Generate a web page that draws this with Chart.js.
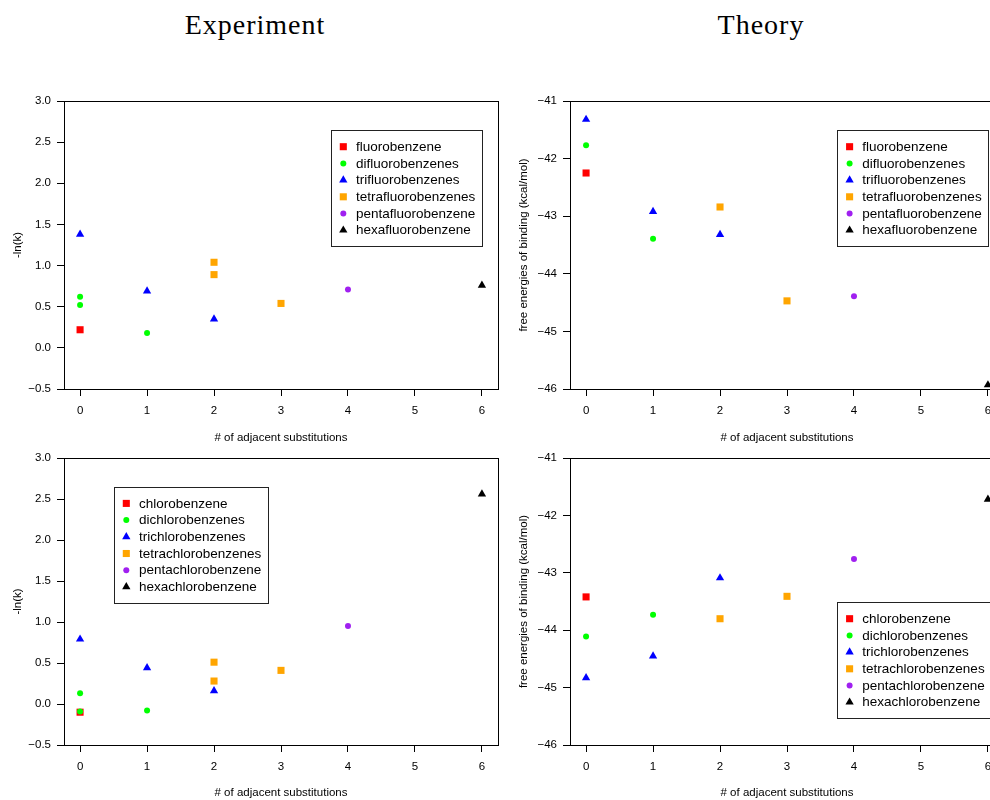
<!DOCTYPE html>
<html>
<head>
<meta charset="utf-8">
<script src="https://cdn.jsdelivr.net/npm/chart.js@4/dist/chart.umd.min.js"></script>
<style>
  html, body { margin: 0; padding: 0; background: #fff; overflow: hidden; width: 990px; height: 800px; }
  .panel { position: absolute; }
  .head { position: absolute; top: 11px; font-family: "Liberation Serif", "Times New Roman", serif; font-size: 28px; letter-spacing: 1px; line-height: 1; color: #000; transform: translateX(-50%); white-space: nowrap; }
</style>
</head>
<body>
<div class="head" style="left:255px">Experiment</div>
<div class="head" style="left:761px">Theory</div>
<canvas id="expFluoro" class="panel" width="506" height="365" style="left:0;top:80px"></canvas>
<canvas id="theoFluoro" class="panel" width="506" height="365" style="left:506px;top:80px"></canvas>
<canvas id="expChloro" class="panel" width="506" height="355" style="left:0;top:445px"></canvas>
<canvas id="theoChloro" class="panel" width="506" height="355" style="left:506px;top:445px"></canvas>
<script>
// series names
const fluoroNames = ["fluorobenzene", "difluorobenzenes", "trifluorobenzenes", "tetrafluorobenzenes", "pentafluorobenzene", "hexafluorobenzene"];
const chloroNames = ["chlorobenzene", "dichlorobenzenes", "trichlorobenzenes", "tetrachlorobenzenes", "pentachlorobenzene", "hexachlorobenzene"];

// # of adjacent substitutions, one list per series
const expFluoroX = [[0], [0, 0, 1], [0, 1, 2], [2, 2, 3], [4], [6]];
const theoFluoroX = [[0], [0, 1], [0, 1, 2], [2, 3], [4], [6]];
const expChloroX = [[0], [0, 0, 1], [0, 1, 2], [2, 2, 3], [4], [6]];
const theoChloroX = [[0], [0, 1], [0, 1, 2], [2, 3], [4], [6]];

// -ln(k) (experiment) and free energies of binding in kcal/mol (theory)
const expFluoroY = [[0.22], [0.62, 0.52, 0.18], [1.38, 0.69, 0.35], [1.04, 0.89, 0.54], [0.71], [0.76]];
const theoFluoroY = [[-42.25], [-41.77, -43.39], [-41.32, -42.92, -43.32], [-42.84, -44.47], [-44.39], [-45.93]];
const expChloroY = [[-0.10], [0.13, -0.09, -0.08], [0.79, 0.44, 0.16], [0.51, 0.28, 0.41], [0.95], [2.56]];
const theoChloroY = [[-43.42], [-44.11, -43.73], [-44.83, -44.45, -43.09], [-43.80, -43.41], [-42.76], [-41.72]];

// tick labels
const xTicks = [0, 1, 2, 3, 4, 5, 6];
const expTicks = [-0.5, 0, 0.5, 1, 1.5, 2, 2.5, 3];
const theoTicks = [-46, -45, -44, -43, -42, -41];

const colors = ["#ff0000", "#00ff00", "#0000ff", "#ffa500", "#a020f0", "#000000"];
const shapes = ["rect", "circle", "triangle", "rect", "circle", "triangle"];
const radius = { rect: 5, circle: 3, triangle: 4.8 };

const sans = '"Liberation Sans", Arial, Helvetica, sans-serif';
Chart.defaults.font.family = sans;
Chart.defaults.color = "#000";

const minus = s => s.replace("-", "\u2212");

// box round the plotting region, like R's box()
const frame = {
    id: "frame",
    afterDatasetsDraw(chart) {
        const a = chart.chartArea, ctx = chart.ctx;
        ctx.save();
        ctx.strokeStyle = "#000";
        ctx.lineWidth = 1;
        ctx.strokeRect(Math.round(a.left) + 0.5, Math.round(a.top) + 0.5,
            Math.round(a.right - a.left), Math.round(a.bottom - a.top));
        ctx.restore();
    }
};

// legend in a box placed inside the plot
const boxLegend = {
    id: "boxLegend",
    afterDraw(chart, args, opts) {
        const ctx = chart.ctx;
        const sets = chart.data.datasets;
        const row = 16.7;
        ctx.save();
        ctx.font = "13.5px " + sans;
        const w = 25 + Math.max(...sets.map(d => ctx.measureText(d.label).width)) + 7;
        const h = row * sets.length + 16;
        const x0 = Math.round(opts.left), y0 = Math.round(opts.top);
        ctx.fillStyle = "#fff";
        ctx.fillRect(x0, y0, w, h);
        ctx.strokeStyle = "#222";
        ctx.lineWidth = 1;
        ctx.strokeRect(x0 + 0.5, y0 + 0.5, Math.round(w), Math.round(h));
        sets.forEach((d, i) => {
            const cy = opts.top + row * (i + 1);
            ctx.fillStyle = d.backgroundColor;
            Chart.helpers.drawPoint(ctx, { pointStyle: d.pointStyle, radius: d.pointRadius, rotation: 0, borderWidth: 0 }, opts.left + 12.3, cy);
            ctx.fillStyle = "#000";
            ctx.textBaseline = "middle";
            ctx.textAlign = "left";
            ctx.fillText(d.label, opts.left + 25, cy + 0.5);
        });
        ctx.restore();
    }
};

function makeChart(id, names, xs, ys, yTicks, yTitle, fmt, padTop, xHeight, legendAt) {
    const datasets = names.map((name, i) => ({
        label: name,
        data: xs[i].map((x, j) => ({ x: x, y: ys[i][j] })),
        pointStyle: shapes[i],
        pointRadius: radius[shapes[i]],
        backgroundColor: colors[i],
        pointBorderWidth: 0,
        borderWidth: 0,
        order: names.length - i,
        clip: false
    }));

    new Chart(document.getElementById(id), {
        type: "scatter",
        data: { datasets: datasets },
        options: {
            responsive: false,
            animation: false,
            events: [],
            layout: { padding: { top: padTop, right: 8, left: 0, bottom: 0 } },
            plugins: {
                legend: { display: false },
                tooltip: { enabled: false },
                boxLegend: legendAt
            },
            scales: {
                x: {
                    type: "linear",
                    min: -0.24,
                    max: 6.24,
                    afterBuildTicks: s => { s.ticks = xTicks.map(v => ({ value: v })); },
                    afterFit: s => { s.height = xHeight; },
                    ticks: { font: { size: 11.5 }, padding: 8, autoSkip: false, maxRotation: 0, callback: v => String(v) },
                    grid: { drawOnChartArea: false, tickLength: 7, color: "#000" },
                    border: { display: false },
                    title: { display: true, text: "# of adjacent substitutions", font: { size: 11.5 }, padding: 0 }
                },
                y: {
                    type: "linear",
                    min: yTicks[0],
                    max: yTicks[yTicks.length - 1],
                    afterBuildTicks: s => { s.ticks = yTicks.map(v => ({ value: v })); },
                    afterFit: s => { s.width = 64; },
                    ticks: { font: { size: 11.5 }, padding: 6, autoSkip: false, callback: v => minus(fmt(v)) },
                    grid: { drawOnChartArea: false, tickLength: 7, color: "#000" },
                    border: { display: false },
                    title: { display: true, text: yTitle, font: { size: 11.5 }, padding: { top: 11, bottom: 0 } }
                }
            }
        },
        plugins: [frame, boxLegend]
    });
}

const oneDec = v => v.toFixed(1);
const whole = v => String(v);

makeChart("expFluoro", fluoroNames, expFluoroX, expFluoroY, expTicks, "-ln(k)", oneDec, 21, 56, { left: 331, top: 50 });
makeChart("theoFluoro", fluoroNames, theoFluoroX, theoFluoroY, theoTicks, "free energies of binding (kcal/mol)", whole, 21, 56, { left: 331.3, top: 50 });
makeChart("expChloro", chloroNames, expChloroX, expChloroY, expTicks, "-ln(k)", oneDec, 13, 55, { left: 114, top: 41.7 });
makeChart("theoChloro", chloroNames, theoChloroX, theoChloroY, theoTicks, "free energies of binding (kcal/mol)", whole, 13, 55, { left: 331.3, top: 157 });
</script>
</body>
</html>
